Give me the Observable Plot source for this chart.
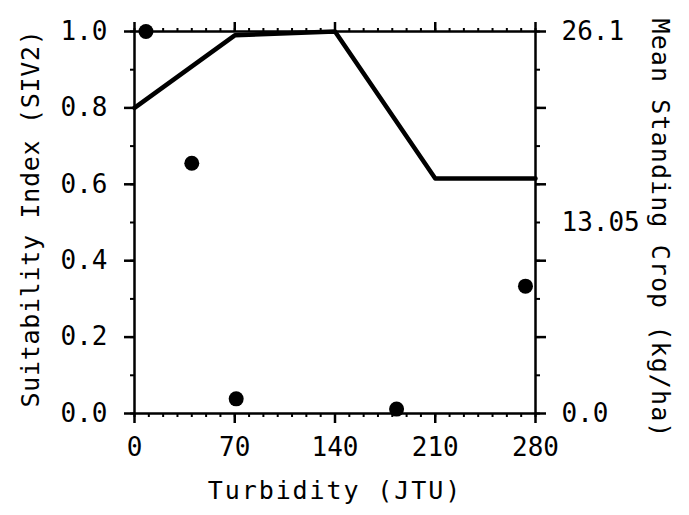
<!DOCTYPE html>
<html><head><meta charset="utf-8">
<script src="https://cdn.jsdelivr.net/npm/d3@7"></script>
<script src="https://cdn.jsdelivr.net/npm/@observablehq/plot@0.6"></script>
<style>body{margin:0;background:#fff;} svg{font-family:"DejaVu Sans Mono",monospace;}</style>
</head><body><div id="chart"></div>
<script>
// Suitability index curve (left axis)
const curveTurbidity = [0, 70, 140, 210, 280];
const curveSI = [0.80, 0.99, 1.00, 0.615, 0.615];
// Observed mean standing crop (right axis, kg/ha)
const obsTurbidity = [8, 40, 71, 183, 273];
const obsCrop = [26.1, 17.1, 1.0, 0.3, 8.7];
const cropMax = 26.1;
const xTicks = [0, 70, 140, 210, 280];
const yTicks = [0, 0.2, 0.4, 0.6, 0.8, 1.0];
const rightTickLabels = ["0.0", "13.05", "26.1"];
const rightTickValues = [0, 13.05, 26.1];
const xTitle = "Turbidity (JTU)";
const yTitle = "Suitability Index (SIV2)";
const y2Title = "Mean Standing Crop (kg/ha)";

const curve = curveTurbidity.map((t, i) => ({t, v: curveSI[i]}));
const obs = obsTurbidity.map((t, i) => ({t, v: obsCrop[i] / cropMax}));
const minorX = d3.range(0, 281, 10);
const minorY = d3.range(0, 1.001, 0.1);

const chart = Plot.plot({
  width: 689, height: 515,
  marginLeft: 134, marginRight: 154, marginTop: 31, marginBottom: 102,
  style: {fontFamily: "DejaVu Sans Mono, monospace", background: "#fff", color: "#000"},
  x: {domain: [0, 280]},
  y: {domain: [0, 1]},
  marks: [
    Plot.frame({stroke: "#000", strokeWidth: 2.5}),
    // left axis
    Plot.axisY(yTicks, {anchor: "left", tickFormat: d3.format(".1f"), tickSize: 10, tickPadding: 17, fontSize: 26, strokeWidth: 2.5, label: null}),
    Plot.axisY(minorY, {anchor: "left", tickSize: 4, text: null, strokeWidth: 2, label: null}),
    // right axis
    Plot.axisY(yTicks, {anchor: "right", text: null, tickSize: 10, strokeWidth: 2.5, label: null}),
    Plot.axisY(minorY, {anchor: "right", tickSize: 4, text: null, strokeWidth: 2, label: null}),
    Plot.axisY(rightTickValues.map(v => v / cropMax), {anchor: "right", tickSize: 0, tickPadding: 26, fontSize: 26,
      tickFormat: (d, i) => rightTickLabels[i], label: null}),
    // bottom axis
    Plot.axisX(xTicks, {anchor: "bottom", tickSize: 10, tickPadding: 14, fontSize: 26, strokeWidth: 2.5, label: null}),
    Plot.axisX(minorX, {anchor: "bottom", tickSize: 4, text: null, strokeWidth: 2, label: null}),
    // top axis
    Plot.axisX(xTicks, {anchor: "top", tickSize: 10, text: null, strokeWidth: 2.5, label: null}),
    Plot.axisX(minorX, {anchor: "top", tickSize: 4, text: null, strokeWidth: 2, label: null}),
    Plot.line(curve, {x: "t", y: "v", stroke: "#000", strokeWidth: 4.5, strokeLinejoin: "round"}),
    Plot.dot(obs, {x: "t", y: "v", r: 7.5, fill: "#000"}),
    Plot.text([xTitle], {frameAnchor: "bottom", textAnchor: "middle", dy: 85, fontSize: 25, fill: "#000"}),
    Plot.text([yTitle], {frameAnchor: "left", textAnchor: "middle", rotate: -90, dx: -104, dy: -4, fontSize: 25, fill: "#000"}),
    Plot.text([y2Title], {frameAnchor: "right", textAnchor: "middle", rotate: 90, dx: 124, dy: 6, fontSize: 25, fill: "#000"})
  ]
});
const spacing = {[xTitle]: "1.9px", [yTitle]: "0.7px", [y2Title]: "1.1px"};
d3.select(chart).selectAll("text").each(function() {
  const s = spacing[this.textContent];
  if (s) this.setAttribute("letter-spacing", s);
});
document.getElementById("chart").appendChild(chart);
</script></body></html>
